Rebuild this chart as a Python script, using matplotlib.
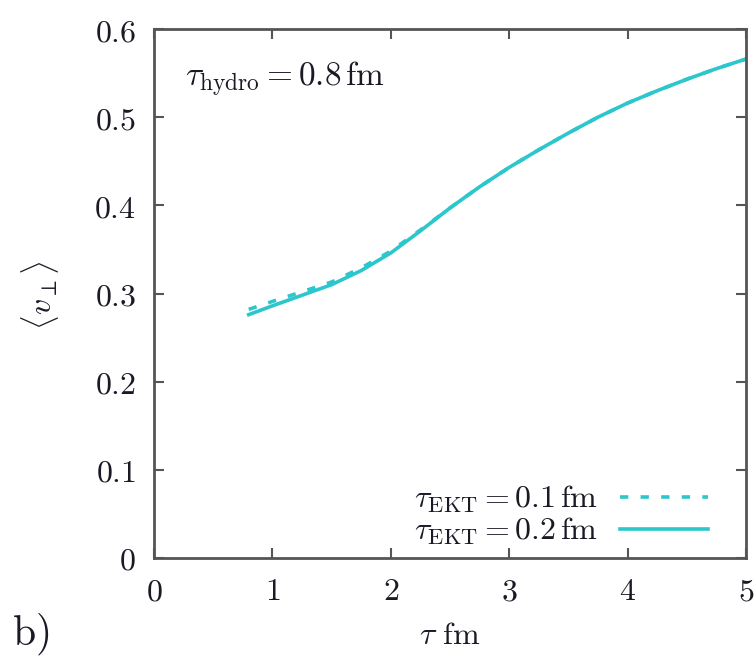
import matplotlib
matplotlib.use("Agg")
import matplotlib.pyplot as plt

plt.rcParams['mathtext.fontset'] = 'cm'
plt.rcParams['font.family'] = ['DejaVu Serif']

# Mean transverse flow velocity versus proper time
tau = [0.8, 1.0, 1.25, 1.5, 1.75, 2.0, 2.25, 2.5, 2.75, 3.0, 3.25, 3.5, 3.75,
       4.0, 4.25, 4.5, 4.75, 5.0]
v_ekt_01 = [0.282, 0.291, 0.302, 0.313, 0.329, 0.348, 0.372, 0.397, 0.421, 0.443,
            0.463, 0.482, 0.500, 0.516, 0.530, 0.543, 0.555, 0.566]
v_ekt_02 = [0.276, 0.286, 0.298, 0.310, 0.326, 0.346, 0.371, 0.397, 0.421, 0.443,
            0.463, 0.482, 0.500, 0.516, 0.530, 0.543, 0.555, 0.566]

x_ticks = [0, 1, 2, 3, 4, 5]
y_ticks = [0, 0.1, 0.2, 0.3, 0.4, 0.5, 0.6]
y_tick_labels = ['0', '0.1', '0.2', '0.3', '0.4', '0.5', '0.6']

cyan = '#2cc6cd'
frame = '#555555'
ink = '#1a1a26'
fs = 23

fig = plt.figure(figsize=(7.54, 6.59), dpi=100)
ax = fig.add_axes([154/754, 1 - 558/659, (746 - 154)/754, (558 - 29)/659])

ax.plot(tau, v_ekt_01, color=cyan, lw=2.6, linestyle=(0, (2.3, 3.4)),
        label=r'$\tau_{\mathrm{EKT}} = 0.1\,\mathrm{fm}$')
ax.plot(tau, v_ekt_02, color=cyan, lw=2.6,
        label=r'$\tau_{\mathrm{EKT}} = 0.2\,\mathrm{fm}$')

ax.set_xlim(0, 5)
ax.set_ylim(0, 0.6)
ax.set_xticks(x_ticks)
ax.set_xticklabels([f'${t}$' for t in x_ticks])
ax.set_yticks(y_ticks)
ax.set_yticklabels([f'${t}$' for t in y_tick_labels])

for s in ax.spines.values():
    s.set_color(frame)
    s.set_linewidth(2.0)
ax.tick_params(direction='in', length=7, width=1.5, color=frame,
               top=True, right=True, labelsize=fs, pad=13, labelcolor=ink)

ax.text(0.052, 0.905, r'$\tau_{\mathrm{hydro}} = 0.8\,\mathrm{fm}$',
        transform=ax.transAxes, fontsize=fs + 1, ha='left', va='center', color=ink)

leg = ax.legend(loc='lower right', bbox_to_anchor=(0.936, 0.02), frameon=False,
                markerfirst=False, fontsize=fs, handlelength=2.75, handletextpad=0.7,
                labelspacing=0.02, borderaxespad=0.0, borderpad=0.0)
for t in leg.get_texts():
    t.set_color(ink)

fig.text(40/754, 1 - 295/659, r'$\langle v_\perp \rangle$', rotation=90,
         fontsize=fs, ha='center', va='center', color=ink)
fig.text(450/754, 1 - 636/659, r'$\tau\ \mathrm{fm}$', fontsize=fs,
         ha='center', va='center', color=ink)
fig.text(12/754, 1 - 634/659, r'$\mathrm{b)}$', fontsize=30,
         ha='left', va='center', color=ink)

fig.savefig('out.png', dpi=100)
